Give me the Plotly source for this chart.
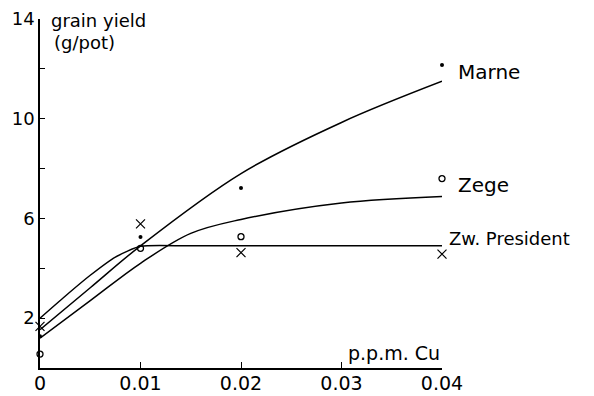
import plotly.graph_objects as go

# Observed data (p.p.m. Cu vs grain yield g/pot)
cu = [0, 0.01, 0.02, 0.04]
marne_obs = [1.27, 5.26, 7.22, 12.15]
zege_obs = [0.56, 4.8, 5.27, 7.6]
zwp_obs = [1.67, 5.78, 4.63, 4.57]

# Fitted curves
marne_fit_x = [0, 0.005, 0.01, 0.02, 0.03, 0.04]
marne_fit_y = [1.54, 3.22, 4.9, 7.8, 9.85, 11.5]
zege_fit_x = [0, 0.005, 0.01, 0.015, 0.02, 0.03, 0.04]
zege_fit_y = [1.2, 2.7, 4.2, 5.4, 5.96, 6.62, 6.88]
zwp_fit_x = [0, 0.0025, 0.005, 0.0075, 0.01, 0.015, 0.04]
zwp_fit_y = [2.0, 2.88, 3.72, 4.45, 4.88, 4.9, 4.9]

x_tickvals = [0, 0.01, 0.02, 0.03, 0.04]
x_ticktext = ["0", "0.01", "0.02", "0.03", "0.04"]
y_tickvals = [2, 4, 6, 8, 10, 12, 14]
y_ticktext = ["2", "", "6", "", "10", "", "14"]

FONT = "DejaVu Sans"
fig = go.Figure()

line_style = dict(color="black", width=1.5)
fig.add_trace(go.Scatter(x=marne_fit_x, y=marne_fit_y, mode="lines",
                         line=dict(**line_style, shape="spline"), cliponaxis=False))
fig.add_trace(go.Scatter(x=zege_fit_x, y=zege_fit_y, mode="lines",
                         line=dict(**line_style, shape="spline"), cliponaxis=False))
fig.add_trace(go.Scatter(x=zwp_fit_x, y=zwp_fit_y, mode="lines",
                         line=dict(**line_style, shape="spline", smoothing=0.6), cliponaxis=False))

fig.add_trace(go.Scatter(x=cu, y=marne_obs, mode="markers", cliponaxis=False,
                         marker=dict(symbol="circle", size=4, color="black")))
fig.add_trace(go.Scatter(x=cu, y=zege_obs, mode="markers", cliponaxis=False,
                         marker=dict(symbol="circle-open", size=6, color="black",
                                     line=dict(width=1.3, color="black"))))
fig.add_trace(go.Scatter(x=cu, y=zwp_obs, mode="markers", cliponaxis=False,
                         marker=dict(symbol="x-thin-open", size=9, color="black",
                                     line=dict(width=1.2, color="black"))))

def ann(text, x, y, size, xanchor="left"):
    fig.add_annotation(text=text, x=x, y=y, xref="paper", yref="paper", showarrow=False,
                       xanchor=xanchor, yanchor="middle",
                       font=dict(family=FONT, size=size, color="black"))

ann("grain yield", 0.022, 0.995, 18)
ann("(g/pot)", 0.030, 0.932, 18)
ann("Marne", 1.035, 0.848, 20)
ann("Zege", 1.035, 0.524, 20)
ann("Zw. President", 1.012, 0.372, 18)
ann("p.p.m. Cu", 1.0, 0.043, 19, xanchor="right")

fig.update_xaxes(range=[0, 0.04], showline=True, linecolor="black", linewidth=1.5,
                 showgrid=False, zeroline=False, ticks="inside", ticklen=6,
                 tickcolor="black", tickwidth=1.3, tickvals=x_tickvals, ticktext=x_ticktext,
                 tickfont=dict(family=FONT, size=19, color="black"), automargin=False,
                 ticklabeloverflow="allow", ticklabelstandoff=-3)
fig.update_yaxes(range=[0, 14], showline=True, linecolor="black", linewidth=1.5,
                 showgrid=False, zeroline=False, ticks="inside", ticklen=5,
                 tickcolor="black", tickwidth=1.3, tickvals=y_tickvals, ticktext=y_ticktext,
                 tickfont=dict(family=FONT, size=18, color="black"), automargin=False,
                 ticklabeloverflow="allow")

# the page body has an 8px margin, so the figure is sized to fit the window
fig.update_layout(width=586, height=388, showlegend=False,
                  paper_bgcolor="white", plot_bgcolor="white",
                  margin=dict(l=32, r=152, t=11, b=28))

fig.write_html("out.html")
